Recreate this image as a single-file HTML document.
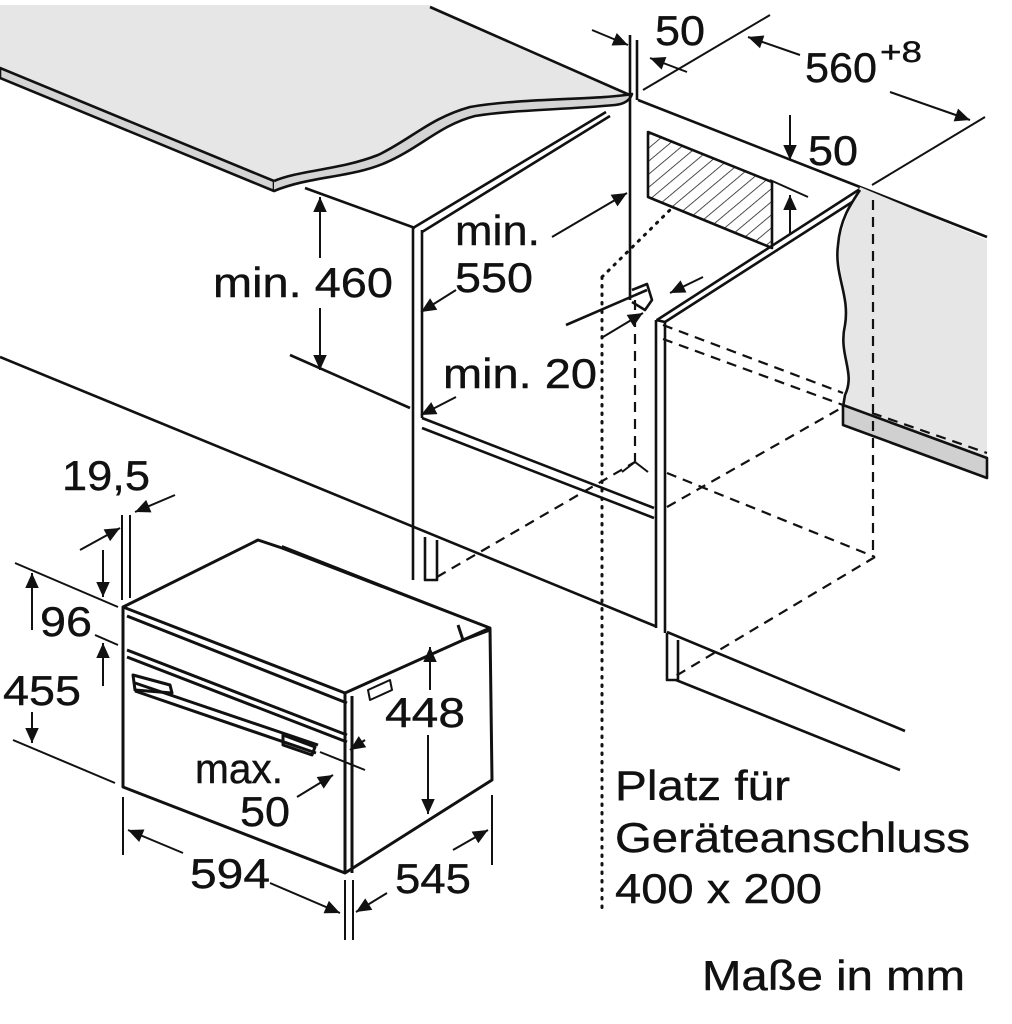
<!DOCTYPE html>
<html><head><meta charset="utf-8"><style>
html,body{margin:0;padding:0;background:#fff;}
svg{display:block;}
text{font-family:"Liberation Sans",sans-serif;fill:#111;stroke:#111;stroke-width:0.4;}
</style></head><body>
<svg width="1012" height="1024" viewBox="0 0 1012 1024" xmlns="http://www.w3.org/2000/svg">
<defs>
<marker id="A" viewBox="0 0 10 10" refX="10" refY="5" markerWidth="20" markerHeight="15" markerUnits="userSpaceOnUse" orient="auto"><path d="M0,0.5 L10,5 L0,9.5 z" fill="#111"/></marker>
<pattern id="h" width="10" height="10" patternUnits="userSpaceOnUse" patternTransform="rotate(50)"><line x1="0" y1="0" x2="0" y2="10" stroke="#222" stroke-width="1.6"/></pattern>
</defs>
<g stroke="#111" stroke-width="2.6" fill="none" stroke-linejoin="round">
<path d="M0,5 L430,5 L630,95 C600,100 520,100 470,108 C430,116 410,140 385,155 C350,172 310,170 278,183 L0,70 Z" fill="#e6e6e6" stroke="none"/>
<path d="M430,7 L632,96"/>
<path d="M0,68 L274,181 L274,191 L0,78 Z" fill="#d4d4d4"/>
<path d="M274,181 C300,170 340,170 378,155 C410,140 430,118 470,107 C520,98 600,100 632,94 C630,100 625,104 615,105 C560,110 510,110 475,116 C440,125 420,148 385,163 C350,178 310,176 274,191" fill="#d4d4d4"/>
<path d="M305,188 L415,228"/>
<path d="M413,228 L413,580 M422,230 L422,418 M413,228 L606,112 M422,232 L610,116"/>
<path d="M630,35 L630,300 M637,40 L637,100"/>
<path d="M0,357 L655,626 M667,632 L905,731 M676,680 L900,770"/>
<path d="M290,355 L410,408"/>
<path d="M425,537 L425,580 L437,580 L437,540"/>
<path d="M422,418 L654,508 M422,428 L654,518"/>
<path d="M656,320 L656,628 M665,322 L665,633 M667,633 L667,680 L678,680 L678,640"/>
<path d="M656,320 L665,322"/>
<path d="M638,100 L860,187 L987,237"/>
<path d="M860,189 L657,320 M860,197 L665,322"/>
<path d="M860,187 C855,200 845,215 840,240 C835,270 850,290 845,320 C840,350 855,370 845,395 L843,407 L987,460 L987,240 L860,187 Z" fill="#e6e6e6" stroke="none"/>
<path d="M860,190 C850,205 840,220 838,245 C834,275 850,295 845,325 C838,355 856,372 845,395 L843,407"/>
<path d="M843,405 L987,458 L987,478 L843,425 Z" fill="#d0d0d0"/>
<path d="M648,132 L772,182 L772,248 L648,197 Z" fill="url(#h)"/>
<path d="M632,290 L647,284 L652,300 L645,310 L632,302" />
<path d="M566,325 L647,290"/>
</g>
<g stroke="#111" stroke-width="2.2" fill="none" stroke-dasharray="10,7">
<path d="M437,577 L635,462 M635,300 L635,462 M667,507 L843,407 M667,473 L875,557 M873,200 L873,557 M875,557 L674,677 M663,325 L843,393 M663,339 L843,405 M872,413 L987,453"/>
</g>
<path d="M622,472 L635,462 L648,472" stroke="#111" stroke-width="2" fill="none"/>
<g stroke="#111" stroke-width="3" fill="none" stroke-dasharray="1.5,7" stroke-linecap="round">
<path d="M602,277 L602,910 M602,277 L673,207"/>
</g>
<g stroke="#111" stroke-width="3" fill="none" stroke-linejoin="round">
<path d="M123,607 L258,540 L282,548 L490,628 L492,780 L345,873 L123,787 Z" fill="#fff"/>
<path d="M123,607 L345,693 L490,628 M345,693 L345,873 M352,696 L352,873"/>
<path d="M127,616 L347,703 M127,650 L347,735 M127,657 L347,742"/>
<path d="M135,683 L318,745 M135,691 L316,753"/>
<path d="M133,675 L170,685 L172,693 L135,690 Z M283,735 L315,747 L312,755 L283,745 Z"/>
<path d="M458,625 L463,640 L490,630"/>
<path d="M368,690 L390,680 L392,690 L370,700 Z" stroke-width="2"/>
<path d="M282,546 L470,620" stroke-width="1.8"/>
</g>
<g stroke="#111" stroke-width="2" fill="none">
<path d="M320,258 L320,197" marker-end="url(#A)"/>
<path d="M320,308 L320,370" marker-end="url(#A)"/>
<path d="M552,237 L627,193" marker-end="url(#A)"/>
<path d="M456,290 L421,312" marker-end="url(#A)"/>
<path d="M456,397 L421,415" marker-end="url(#A)"/>
<path d="M592,30 L628,45" marker-end="url(#A)"/>
<path d="M687,72 L650,58" marker-end="url(#A)"/>
<path d="M643,90 L770,15"/>
<path d="M800,55 L748,37" marker-end="url(#A)"/>
<path d="M890,92 L970,120" marker-end="url(#A)"/>
<path d="M872,185 L985,117"/>
<path d="M790,115 L790,160" marker-end="url(#A)"/>
<path d="M770,180 L808,197"/>
<path d="M790,235 L790,195" marker-end="url(#A)"/>
<path d="M603,337 L643,313" marker-end="url(#A)"/>
<path d="M703,277 L670,293" marker-end="url(#A)"/>
<path d="M122,515 L122,600 M130,515 L130,598"/>
<path d="M175,495 L135,512" marker-end="url(#A)"/>
<path d="M80,550 L120,528" marker-end="url(#A)"/>
<path d="M103,550 L103,597" marker-end="url(#A)"/>
<path d="M103,686 L103,643" marker-end="url(#A)"/>
<path d="M15,563 L118,607 M95,635 L118,645 M13,740 L115,783"/>
<path d="M32,630 L32,573" marker-end="url(#A)"/>
<path d="M32,712 L32,743" marker-end="url(#A)"/>
<path d="M430,690 L430,647" marker-end="url(#A)"/>
<path d="M428,735 L428,814" marker-end="url(#A)"/>
<path d="M320,752 L365,770"/>
<path d="M365,740 L350,750" marker-end="url(#A)"/>
<path d="M297,797 L333,775" marker-end="url(#A)"/>
<path d="M123,797 L123,855 M345,880 L345,940 M353,880 L353,940 M492,795 L492,865"/>
<path d="M183,853 L128,830" marker-end="url(#A)"/>
<path d="M270,883 L340,913" marker-end="url(#A)"/>
<path d="M453,850 L488,830" marker-end="url(#A)"/>
<path d="M387,893 L356,912" marker-end="url(#A)"/>
</g>
<g font-size="42">
<text x="213" y="297" textLength="180" lengthAdjust="spacingAndGlyphs">min. 460</text>
<text x="455" y="245" textLength="85" lengthAdjust="spacingAndGlyphs">min.</text>
<text x="455" y="292" textLength="78" lengthAdjust="spacingAndGlyphs">550</text>
<text x="443" y="388" textLength="154" lengthAdjust="spacingAndGlyphs">min. 20</text>
<text x="655" y="45" textLength="50" lengthAdjust="spacingAndGlyphs">50</text>
<text x="805" y="82" textLength="72" lengthAdjust="spacingAndGlyphs">560</text>
<text x="880" y="62" font-size="30" textLength="42" lengthAdjust="spacingAndGlyphs">+8</text>
<text x="808" y="165" textLength="50" lengthAdjust="spacingAndGlyphs">50</text>
<text x="62" y="490" textLength="88" lengthAdjust="spacingAndGlyphs">19,5</text>
<text x="40" y="636" textLength="52" lengthAdjust="spacingAndGlyphs">96</text>
<text x="3" y="705" textLength="78" lengthAdjust="spacingAndGlyphs">455</text>
<text x="385" y="727" textLength="80" lengthAdjust="spacingAndGlyphs">448</text>
<text x="195" y="783" textLength="88" lengthAdjust="spacingAndGlyphs">max.</text>
<text x="240" y="826" textLength="50" lengthAdjust="spacingAndGlyphs">50</text>
<text x="190" y="888" textLength="80" lengthAdjust="spacingAndGlyphs">594</text>
<text x="395" y="893" textLength="76" lengthAdjust="spacingAndGlyphs">545</text>
<text x="615" y="800" textLength="175" lengthAdjust="spacingAndGlyphs">Platz für</text>
<text x="615" y="852" textLength="355" lengthAdjust="spacingAndGlyphs">Geräteanschluss</text>
<text x="615" y="903" textLength="207" lengthAdjust="spacingAndGlyphs">400 x 200</text>
<text x="702" y="990" textLength="263" lengthAdjust="spacingAndGlyphs">Maße in mm</text>
</g>
</svg>
</body></html>
